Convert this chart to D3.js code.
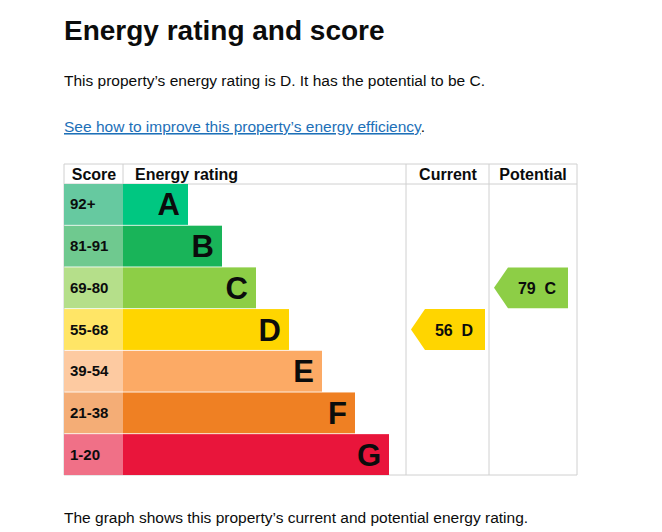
<!DOCTYPE html><html><head><meta charset="utf-8"><script src="https://cdn.jsdelivr.net/npm/d3@7"></script>
<style>body{margin:0;background:#fff}</style></head><body><svg id="c" width="662" height="532"></svg><script>
const ratings=["A","B","C","D","E","F","G"];
const scores=["92+","81-91","69-80","55-68","39-54","21-38","1-20"];
const barEnd=[188,222,256,289,322,355,389];
const barColors=["#00c781","#19b459","#8dce46","#ffd500","#fcaa65","#ef8023","#e9153b"];
const scoreColors=["#66c9a0","#6fc98f","#b5df8a","#ffe566","#fdcaa1","#f4ad76","#f07087"];
const current={value:56,rating:"D"}, potential={value:79,rating:"C"};
const svg=d3.select("#c"), F="Liberation Sans, Arial, sans-serif";
svg.append("text").attr("x",64).attr("y",40).attr("font-family",F).attr("font-weight","bold").attr("font-size",28).attr("fill","#0b0c0c").text("Energy rating and score");
svg.append("text").attr("x",64).attr("y",86).attr("font-family",F).attr("font-size",15.5).attr("fill","#0b0c0c").text("This property’s energy rating is D. It has the potential to be C.");
const lk=svg.append("text").attr("x",64).attr("y",132).attr("font-family",F).attr("font-size",15.5).attr("fill","#0b0c0c");
lk.append("tspan").attr("fill","#1d70b8").attr("text-decoration","underline").text("See how to improve this property’s energy efficiency");
lk.append("tspan").text(".");
svg.append("text").attr("x",64).attr("y",523).attr("font-family",F).attr("font-size",15.5).attr("fill","#0b0c0c").text("The graph shows this property’s current and potential energy rating.");
const y=d3.scaleBand().domain(ratings).range([184,475]).paddingInner(0.02);
const x=d3.scaleLinear().domain([0,1]).range([0,1]);
const g=svg.append("g");
// grid
const lines=[[64,164,577,164],[64,184,577,184],[64,164,64,475],[123,164,123,184],[406,164,406,475],[489,164,489,475],[577,164,577,475],[64,475,577,475]];
lines.forEach(l=>g.append("line").attr("x1",l[0]).attr("y1",l[1]).attr("x2",l[2]).attr("y2",l[3]).attr("stroke","#d0d0d0"));
[["Score",94],["Energy rating",135,"start"],["Current",448],["Potential",533]].forEach(h=>g.append("text").attr("x",h[1]).attr("y",180).attr("text-anchor",h[2]||"middle").attr("font-family",F).attr("font-weight","bold").attr("font-size",16).attr("fill","#0b0c0c").text(h[0]));
ratings.forEach((r,i)=>{
  const yy=y(r),h=y.bandwidth();
  g.append("rect").attr("x",64).attr("y",yy).attr("width",59).attr("height",h).attr("fill",scoreColors[i]);
  g.append("rect").attr("x",123).attr("y",yy).attr("width",x(barEnd[i])-123).attr("height",h).attr("fill",barColors[i]);
  g.append("text").attr("x",70).attr("y",yy+h/2+5).attr("font-family",F).attr("font-weight","bold").attr("font-size",15).attr("fill","#0b0c0c").text(scores[i]);
  g.append("text").attr("x",x(barEnd[i])-8).attr("y",yy+h/2+11).attr("text-anchor","end").attr("font-family",F).attr("font-weight","bold").attr("font-size",31).attr("fill","#0b0c0c").text(r);
});
function arrow(o,x0,x1){
  const i=ratings.indexOf(o.rating),yy=y(o.rating),h=y.bandwidth();
  g.append("path").attr("d",`M${x0},${yy+h/2}L${x0+14},${yy}L${x1},${yy}L${x1},${yy+h}L${x0+14},${yy+h}Z`).attr("fill",barColors[i]);
  g.append("text").attr("x",(x0+x1)/2+6).attr("y",yy+h/2+6).attr("text-anchor","middle").attr("font-family",F).attr("font-weight","bold").attr("font-size",16).attr("fill","#0b0c0c").attr("xml:space","preserve").text(o.value+"  "+o.rating);
}
arrow(current,411,485);arrow(potential,494,568);
</script></body></html>
